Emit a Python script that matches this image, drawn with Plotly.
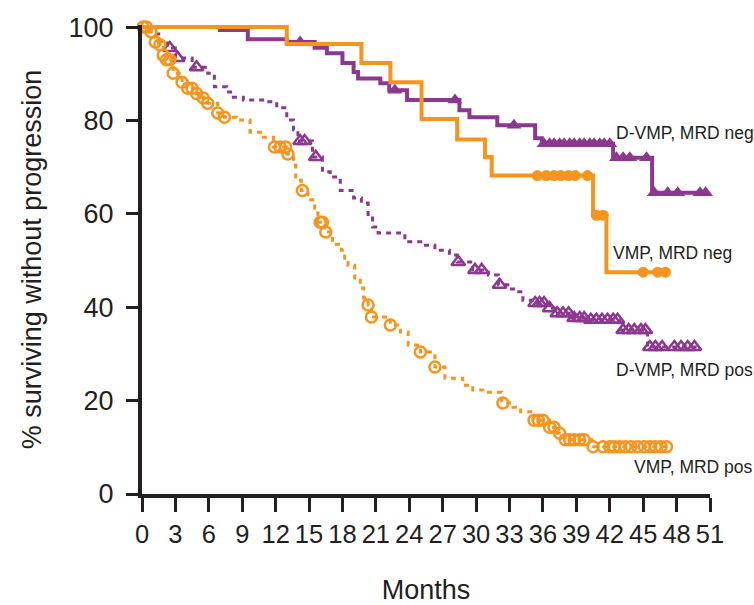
import numpy as np
import plotly.graph_objects as go

# ---------------- data ----------------
x_ticks = list(range(0, 52, 3))
y_ticks = [0, 20, 40, 60, 80, 100]

# D-VMP, MRD neg (solid purple, filled triangles)
dvmp_neg_t = [0, 7, 9.5, 13, 15.5, 16.6, 18, 19, 19.4, 21.4, 22.2, 23.8, 28.5, 29.4, 31.9, 35.3, 35.9, 42.3, 45.8, 50.7]
dvmp_neg_s = [100, 99.4, 97.4, 96.8, 95.6, 94.4, 92.3, 90.4, 89, 88, 86.5, 84.4, 82.2, 80.7, 79, 76.2, 75, 72, 64.5, 64.5]
dvmp_neg_c = [14.2, 22.7, 28.1, 33.4, 36.1, 36.6, 37.0, 37.5, 37.9, 38.4, 38.8, 39.3, 39.7, 40.2, 40.6, 41.1,
              41.5, 42.0, 42.6, 43.2, 43.8, 45.3, 46.0, 47.2, 48.1, 50.1, 50.6]

# VMP, MRD neg (solid orange, filled circles)
vmp_neg_t = [0, 13, 19.7, 22.3, 25.1, 28.3, 30.8, 31.4, 40.5, 41.7, 47.2]
vmp_neg_s = [100, 96.4, 92.3, 88.2, 80.3, 75.9, 72.2, 68.2, 59.7, 47.5, 47.5]
vmp_neg_c = [35.5, 36.3, 37.0, 37.6, 38.3, 38.9, 40.0, 40.8, 41.4, 45.0, 46.3, 47.0]

# D-VMP, MRD pos (dashed purple, open triangles)
dvmp_pos_t = [0, 0.8, 1.5, 2.3, 3.0, 4.5, 5.9, 6.5, 7.6, 8.2, 9.1, 11.2, 12.1, 13.0, 13.6, 14.0, 15.3, 16.2,
              16.9, 17.8, 19.0, 19.7, 20.3, 20.7, 21.2, 23.6, 25.2, 26.3, 27.6, 28.3, 29.7, 31.1, 32.0, 33.0,
              33.5, 34.2, 35.2, 36.5, 37.1, 38.6, 40.2, 42.9, 45.4, 49.8]
dvmp_pos_s = [100, 98.5, 97, 95.5, 93.4, 91.4, 90.1, 87.2, 86.1, 85, 84.4, 84, 82.7, 80.1, 78, 75.6, 72.2, 69,
              67.9, 65, 63.4, 62.3, 59.5, 57.2, 55.9, 54, 53.3, 52.2, 51.2, 49.7, 48, 46.9, 44.8, 43.9,
              43.3, 41.5, 40.9, 39.8, 38.7, 37.7, 37.3, 35.1, 31.5, 31.5]
dvmp_pos_c = [2.5, 3.2, 4.9, 14.2, 14.6, 15.6, 28.4, 29.9, 30.5, 32.1, 35.3, 35.7, 36.1, 36.6, 37.3, 37.8,
              38.3, 38.8, 39.3, 39.7, 40.3, 40.8, 41.3, 41.8, 42.3, 42.7, 43.2, 43.7, 44.2, 44.8, 45.2,
              45.6, 46.1, 46.7, 47.8, 48.4, 49.0, 49.6]

# VMP, MRD pos (dashed orange, open circles)
vmp_pos_t = [0, 0.5, 1.2, 1.5, 1.9, 2.2, 2.8, 3.6, 4.1, 4.9, 5.5, 5.9, 6.8, 7.4, 8.5, 9.7, 10.9, 11.8, 13.0,
             13.6, 13.8, 14.3, 14.9, 15.5, 15.8, 16.4, 17.1, 17.9, 18.2, 18.5, 19.1, 19.6, 19.9, 20.3, 20.6,
             22.3, 23.2, 23.9, 25.0, 26.3, 27.2, 28.8, 29.7, 30.6, 32.3, 33.3, 34.0, 35.1, 36.6, 37.3, 38.0,
             40.4, 47.2]
vmp_pos_s = [100, 99, 96.8, 96.2, 94, 93, 90.1, 88.2, 86.9, 85.8, 84.8, 83.7, 81.6, 80.7, 80.1, 77.5, 76.4,
             74.3, 72.8, 70.4, 67.2, 65, 63, 60.2, 58.2, 56.1, 53.5, 52.2, 50.5, 49, 45.8, 44.1, 42, 40.5,
             37.9, 36.2, 34.7, 31.9, 30.4, 27.2, 24.8, 23.3, 22.3, 21.8, 19.5, 18.6, 17.6, 15.8, 14.3, 13,
             11.6, 10.1, 10.1]
vmp_pos_c = [0.1, 0.4, 0.8, 1.2, 1.6, 1.9, 2.2, 2.5, 2.8, 3.6, 4.1, 4.5, 4.9, 5.5, 5.9, 6.8, 7.4, 11.9,
             12.4, 12.9, 13.1, 14.4, 16.0, 16.2, 16.5, 20.3, 20.6, 22.3, 25.0, 26.3, 32.4, 35.2, 35.6, 36.0,
             36.6, 37.0, 37.5, 38.0, 38.4, 38.8, 39.3, 39.7, 40.5, 41.4, 42.0, 42.4, 42.9, 43.4, 43.9, 44.5,
             45.1, 45.6, 46.1, 46.6, 47.1]

labels = ["D-VMP, MRD neg", "VMP, MRD neg", "D-VMP, MRD pos", "VMP, MRD pos"]
label_x = [42.4, 42.1, 42.4, 44.0]
label_y = [77.3, 51.6, 26.6, 5.8]

# ---------------- styling ----------------
PURPLE = "#8c3890"
ORANGE = "#f7941e"
AXIS = "#231f20"
FONT = "Liberation Sans, Arial, Helvetica, sans-serif"


def step_value(times, surv, tc):
    times = np.asarray(times)
    surv = np.asarray(surv)
    idx = np.searchsorted(times, np.asarray(tc), side="right") - 1
    return surv[np.clip(idx, 0, len(surv) - 1)]


fig = go.Figure()

series = [
    (dvmp_pos_t, dvmp_pos_s, dvmp_pos_c, PURPLE, "5px,5px", 3, "triangle-up-open", 12),
    (vmp_pos_t, vmp_pos_s, vmp_pos_c, ORANGE, "5px,5px", 3, "circle-open", 11),
    (dvmp_neg_t, dvmp_neg_s, dvmp_neg_c, PURPLE, "solid", 4, "triangle-up", 13),
    (vmp_neg_t, vmp_neg_s, vmp_neg_c, ORANGE, "solid", 4, "circle", 11),
]

for t, s, c, col, dash, w, sym, size in series:
    fig.add_trace(go.Scatter(x=t, y=s, mode="lines", line=dict(color=col, width=w, dash=dash, shape="hv"),
                             hoverinfo="skip", showlegend=False, cliponaxis=False))
    open_marker = sym.endswith("open")
    fig.add_trace(go.Scatter(x=c, y=step_value(t, s, c), mode="markers",
                             marker=dict(symbol=sym, size=size, color=col,
                                         line=dict(color=col, width=2.5 if open_marker else 0)),
                             showlegend=False, cliponaxis=False))

for txt, lx, ly in zip(labels, label_x, label_y):
    fig.add_annotation(x=lx, y=ly, xref="x", yref="y", text=txt, showarrow=False, xanchor="left",
                       font=dict(family=FONT, size=17.5, color=AXIS))

fig.update_layout(
    width=754, height=605,
    margin=dict(l=142, r=44, t=25, b=111),
    paper_bgcolor="white", plot_bgcolor="white",
    font=dict(family=FONT, color=AXIS),
    showlegend=False,
)
fig.update_xaxes(
    range=[0, 51], tickvals=x_ticks, ticktext=[str(v) for v in x_ticks], automargin=False,
    showline=True, linecolor=AXIS, linewidth=4, ticks="outside", ticklen=14, tickwidth=3,
    tickcolor=AXIS, showgrid=False, zeroline=False, tickfont=dict(family=FONT, size=25.5, color=AXIS),
    title=dict(text="Months", font=dict(family=FONT, size=27, color=AXIS), standoff=36),
)
fig.update_yaxes(
    range=[0, 100.45], tickvals=y_ticks, ticktext=[str(v) for v in y_ticks], automargin=False,
    showline=True, linecolor=AXIS, linewidth=4, ticks="outside", ticklen=12, tickwidth=3,
    tickcolor=AXIS, showgrid=False, zeroline=False, tickfont=dict(family=FONT, size=27, color=AXIS),
    ticklabelstandoff=7,
    title=dict(text="% surviving without progression", font=dict(family=FONT, size=27, color=AXIS),
               standoff=20),
)

fig.write_html("out.html")
